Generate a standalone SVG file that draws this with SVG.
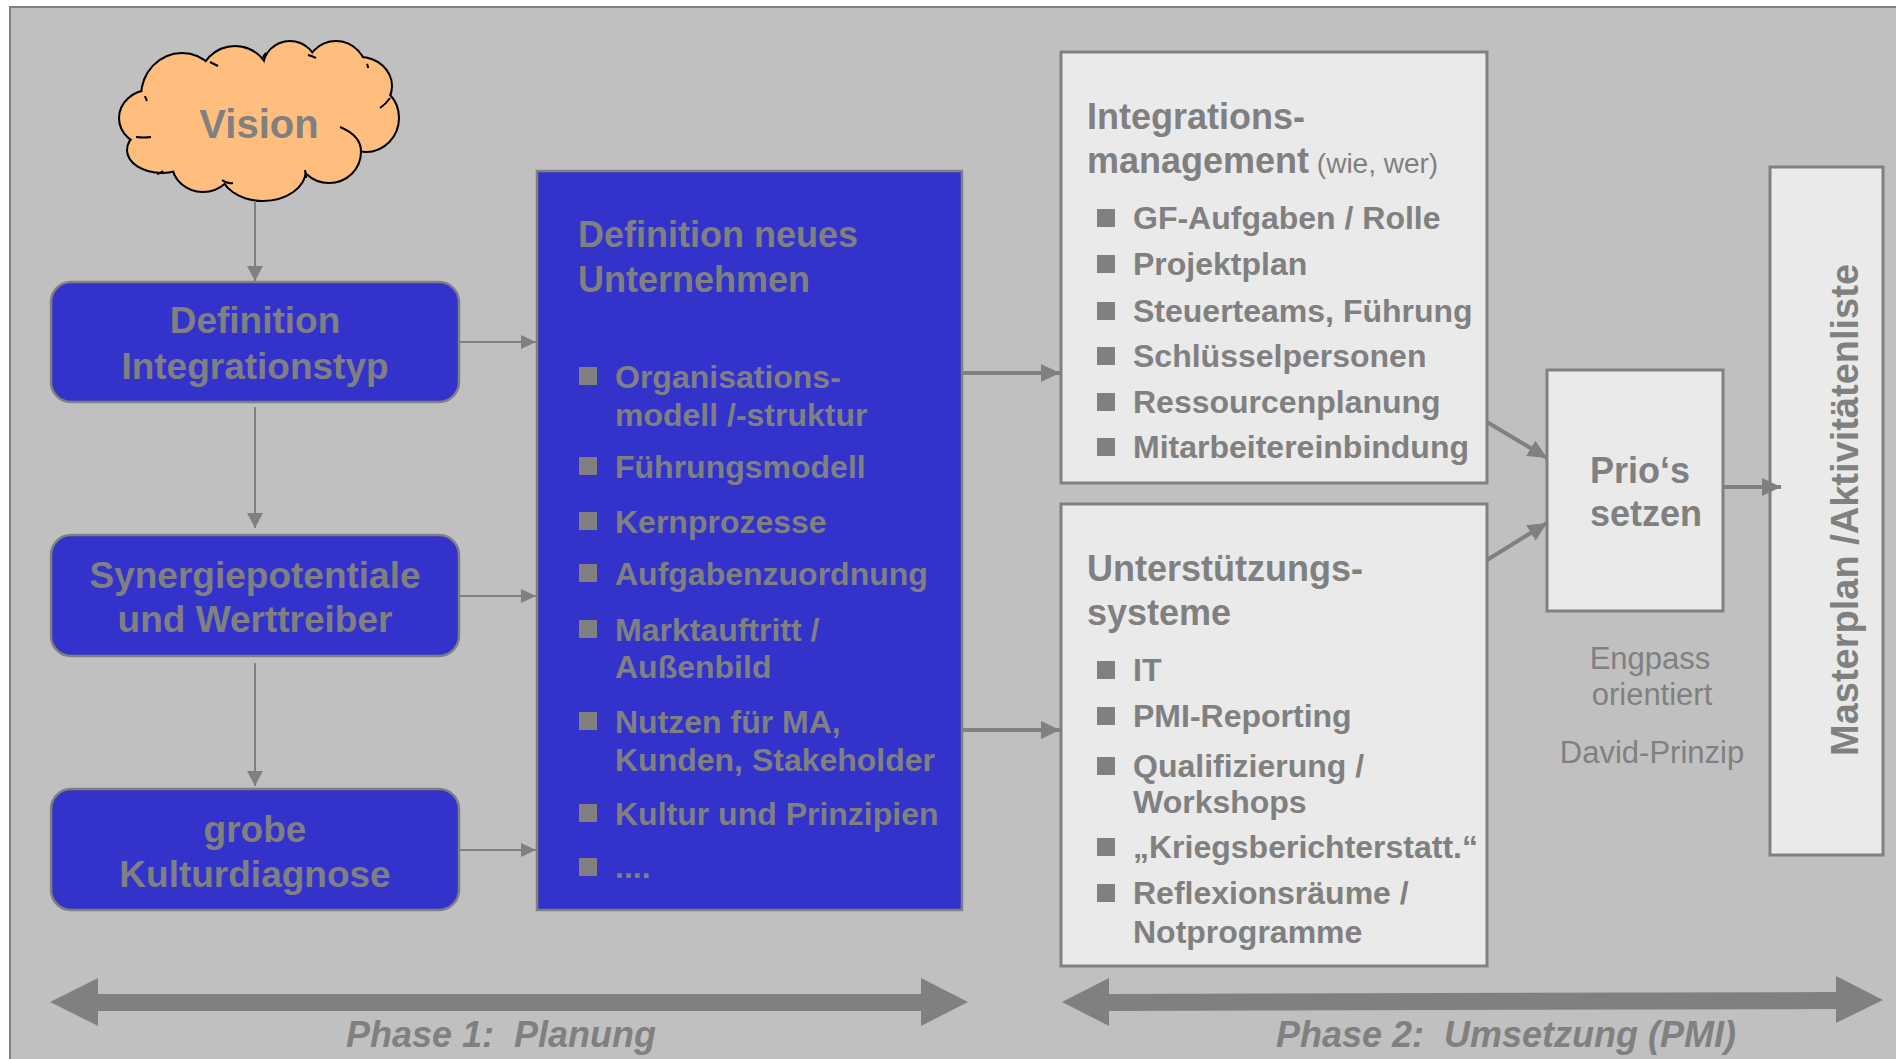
<svg xmlns="http://www.w3.org/2000/svg" width="1896" height="1059" viewBox="0 0 1896 1059">
  <style>
    text { font-family: "Liberation Sans", Arial, sans-serif; fill: #808080; }
    .b { font-weight: bold; }
    .t37 { font-size: 37px; font-weight: bold; text-anchor: middle; }
    .h36 { font-size: 36px; font-weight: bold; }
    .li { font-size: 32px; font-weight: bold; }
    .note { font-size: 31px; text-anchor: middle; }
    .phase { font-size: 36px; font-weight: bold; font-style: italic; text-anchor: middle; }
    .blue { fill: #3333CC; stroke: #808080; stroke-width: 2.5; }
    .light { fill: #EAEAEA; stroke: #808080; stroke-width: 3; }
    .sq { fill: #808080; }
    .thin { stroke: #808080; stroke-width: 2; fill: none; }
    .thick { stroke: #808080; stroke-width: 4; fill: none; }
  </style>
  <defs>
    <marker id="head" markerUnits="userSpaceOnUse" markerWidth="16" markerHeight="16" refX="15" refY="8" orient="auto">
      <path d="M0,0 L15,8 L0,16 z" fill="#808080"/>
    </marker>
    <marker id="headS" markerUnits="userSpaceOnUse" markerWidth="16" markerHeight="14" refX="15" refY="7" orient="auto">
      <path d="M0,0 L15,7 L0,14 z" fill="#808080"/>
    </marker>
    <marker id="headL" markerUnits="userSpaceOnUse" markerWidth="20" markerHeight="18" refX="19" refY="9" orient="auto">
      <path d="M0,0 L19,9 L0,18 z" fill="#808080"/>
    </marker>
  </defs>

  <!-- page and frame -->
  <rect x="0" y="0" width="1896" height="1059" fill="#FFFFFF"/>
  <rect x="10" y="7" width="1900" height="1070" fill="#C0C0C0" stroke="#808080" stroke-width="2"/>

  <!-- Vision cloud: outlined bumps, then filled bumps on top to keep only the outer edge -->
  <g id="vision">
    <g fill="#FFBE7D" stroke="#000000" stroke-width="4">
      <ellipse cx="150" cy="118" rx="30" ry="27"/>
      <ellipse cx="162" cy="150" rx="34" ry="22"/>
      <ellipse cx="203" cy="164" rx="30" ry="27"/>
      <ellipse cx="263" cy="170" rx="42" ry="30"/>
      <ellipse cx="329" cy="152" rx="31" ry="30"/>
      <ellipse cx="366" cy="118" rx="32" ry="33"/>
      <ellipse cx="360" cy="86" rx="31" ry="28"/>
      <ellipse cx="336" cy="73" rx="30" ry="31"/>
      <ellipse cx="290" cy="67" rx="26" ry="25"/>
      <ellipse cx="235" cy="82" rx="35" ry="35"/>
      <ellipse cx="182" cy="96" rx="40" ry="42"/>
    </g>
    <g fill="#FFBE7D">
      <ellipse cx="150" cy="118" rx="30" ry="27"/>
      <ellipse cx="162" cy="150" rx="34" ry="22"/>
      <ellipse cx="203" cy="164" rx="30" ry="27"/>
      <ellipse cx="263" cy="170" rx="42" ry="30"/>
      <ellipse cx="329" cy="152" rx="31" ry="30"/>
      <ellipse cx="366" cy="118" rx="32" ry="33"/>
      <ellipse cx="360" cy="86" rx="31" ry="28"/>
      <ellipse cx="336" cy="73" rx="30" ry="31"/>
      <ellipse cx="290" cy="67" rx="26" ry="25"/>
      <ellipse cx="235" cy="82" rx="35" ry="35"/>
      <ellipse cx="182" cy="96" rx="40" ry="42"/>
      <ellipse cx="262" cy="122" rx="105" ry="50"/>
    </g>
    <g fill="none" stroke="#000000" stroke-width="2">
      <path d="M340,127 Q362,136 361,153"/>
      <path d="M136,137 Q144,138 151,137"/>
      <path d="M145,96 Q146,99 147,101"/>
      <path d="M222,180 Q227,184 233,183"/>
      <path d="M305,170 Q306,174 306,178"/>
      <path d="M380,108 Q386,104 390,98"/>
      <path d="M308,55 Q312,56 316,58"/>
      <path d="M263,58 Q264,55 266,53"/>
      <path d="M210,62 Q214,64 218,66"/>
      <path d="M163,171 Q159,174 157,174"/>
      <path d="M367,64 Q368,66 368,68"/>
    </g>
    <text class="b" x="259" y="138" font-size="40" text-anchor="middle">Vision</text>
  </g>

  <!-- left column -->
  <g id="integrationstyp">
    <rect class="blue" x="51" y="282" width="408" height="120" rx="20"/>
    <text class="t37" x="255" y="333">Definition</text>
    <text class="t37" x="255" y="379">Integrationstyp</text>
  </g>
  <g id="synergie">
    <rect class="blue" x="51" y="535" width="408" height="121" rx="20"/>
    <text class="t37" x="255" y="588">Synergiepotentiale</text>
    <text class="t37" x="255" y="632">und Werttreiber</text>
  </g>
  <g id="kulturdiagnose">
    <rect class="blue" x="51" y="789" width="408" height="121" rx="20"/>
    <text class="t37" x="255" y="842">grobe</text>
    <text class="t37" x="255" y="887">Kulturdiagnose</text>
  </g>

  <!-- definition of the new company -->
  <g id="unternehmen">
    <rect class="blue" x="537" y="171" width="425" height="739"/>
    <text class="h36" x="578" y="247">Definition neues</text>
    <text class="h36" x="578" y="292">Unternehmen</text>
    <rect class="sq" x="579" y="367" width="18" height="18"/>
    <text class="li" x="615" y="388">Organisations-</text>
    <text class="li" x="615" y="426">modell /-struktur</text>
    <rect class="sq" x="579" y="457" width="18" height="18"/>
    <text class="li" x="615" y="478">Führungsmodell</text>
    <rect class="sq" x="579" y="512" width="18" height="18"/>
    <text class="li" x="615" y="533">Kernprozesse</text>
    <rect class="sq" x="579" y="564" width="18" height="18"/>
    <text class="li" x="615" y="585">Aufgabenzuordnung</text>
    <rect class="sq" x="579" y="620" width="18" height="18"/>
    <text class="li" x="615" y="641">Marktauftritt /</text>
    <text class="li" x="615" y="678">Außenbild</text>
    <rect class="sq" x="579" y="712" width="18" height="18"/>
    <text class="li" x="615" y="733">Nutzen für MA,</text>
    <text class="li" x="615" y="771">Kunden, Stakeholder</text>
    <rect class="sq" x="579" y="804" width="18" height="18"/>
    <text class="li" x="615" y="825">Kultur und Prinzipien</text>
    <rect class="sq" x="579" y="858" width="18" height="18"/>
    <text class="li" x="615" y="878">....</text>
  </g>

  <!-- integration management -->
  <g id="integrationsmanagement">
    <rect class="light" x="1061" y="52" width="426" height="431"/>
    <text class="h36" x="1087" y="129">Integrations-</text>
    <text x="1087" y="173"><tspan class="h36">management</tspan><tspan font-size="28"> (wie, wer)</tspan></text>
    <rect class="sq" x="1097" y="209" width="18" height="18"/>
    <text class="li" x="1133" y="229">GF-Aufgaben / Rolle</text>
    <rect class="sq" x="1097" y="255" width="18" height="18"/>
    <text class="li" x="1133" y="275">Projektplan</text>
    <rect class="sq" x="1097" y="302" width="18" height="18"/>
    <text class="li" x="1133" y="322">Steuerteams, Führung</text>
    <rect class="sq" x="1097" y="347" width="18" height="18"/>
    <text class="li" x="1133" y="367">Schlüsselpersonen</text>
    <rect class="sq" x="1097" y="393" width="18" height="18"/>
    <text class="li" x="1133" y="413">Ressourcenplanung</text>
    <rect class="sq" x="1097" y="438" width="18" height="18"/>
    <text class="li" x="1133" y="458">Mitarbeitereinbindung</text>
  </g>

  <!-- support systems -->
  <g id="unterstuetzungssysteme">
    <rect class="light" x="1061" y="504" width="426" height="462"/>
    <text class="h36" x="1087" y="581">Unterstützungs-</text>
    <text class="h36" x="1087" y="625">systeme</text>
    <rect class="sq" x="1097" y="661" width="18" height="18"/>
    <text class="li" x="1133" y="681">IT</text>
    <rect class="sq" x="1097" y="707" width="18" height="18"/>
    <text class="li" x="1133" y="727">PMI-Reporting</text>
    <rect class="sq" x="1097" y="757" width="18" height="18"/>
    <text class="li" x="1133" y="777">Qualifizierung /</text>
    <text class="li" x="1133" y="813">Workshops</text>
    <rect class="sq" x="1097" y="838" width="18" height="18"/>
    <text class="li" x="1133" y="858">„Kriegsberichterstatt.“</text>
    <rect class="sq" x="1097" y="884" width="18" height="18"/>
    <text class="li" x="1133" y="904">Reflexionsräume /</text>
    <text class="li" x="1133" y="943">Notprogramme</text>
  </g>

  <!-- priorities -->
  <g id="prios">
    <rect class="light" x="1547" y="370" width="176" height="241"/>
    <text class="h36" x="1590" y="483">Prio‘s</text>
    <text class="h36" x="1590" y="526">setzen</text>
  </g>
  <g id="prio-hinweise">
    <text class="note" x="1650" y="669">Engpass</text>
    <text class="note" x="1652" y="705">orientiert</text>
    <text class="note" x="1652" y="763">David-Prinzip</text>
  </g>

  <!-- master plan -->
  <g id="masterplan">
    <rect class="light" x="1770" y="167" width="113" height="688"/>
    <text class="b" font-size="38" text-anchor="middle" transform="translate(1858,510) rotate(-90)">Masterplan /Aktivitätenliste</text>
  </g>

  <!-- connectors -->
  <g id="connectors">
    <line class="thin" x1="255" y1="201" x2="255" y2="281" marker-end="url(#head)"/>
    <line class="thin" x1="255" y1="407" x2="255" y2="528" marker-end="url(#head)"/>
    <line class="thin" x1="255" y1="663" x2="255" y2="786" marker-end="url(#head)"/>
    <line class="thin" x1="459" y1="342" x2="536" y2="342" marker-end="url(#headS)"/>
    <line class="thin" x1="459" y1="596" x2="536" y2="596" marker-end="url(#headS)"/>
    <line class="thin" x1="459" y1="850" x2="536" y2="850" marker-end="url(#headS)"/>
    <line class="thick" x1="963" y1="373" x2="1060" y2="373" marker-end="url(#headL)"/>
    <line class="thick" x1="963" y1="730" x2="1060" y2="730" marker-end="url(#headL)"/>
    <line class="thick" x1="1487" y1="422" x2="1547" y2="458" marker-end="url(#headL)"/>
    <line class="thick" x1="1487" y1="560" x2="1547" y2="523" marker-end="url(#headL)"/>
    <line class="thick" x1="1724" y1="487" x2="1781" y2="487" stroke-width="5" marker-end="url(#headL)"/>
  </g>

  <!-- phase arrows -->
  <g id="phase1">
    <polygon fill="#808080" points="50,1002 98,978 98,994 921,994 921,978 968,1002 921,1026 921,1011 98,1011 98,1026"/>
    <text class="phase" x="501" y="1047" xml:space="preserve">Phase 1:  Planung</text>
  </g>
  <g id="phase2">
    <polygon fill="#808080" points="1062,1002 1109,978 1109,994 1836,992 1836,976 1883,1000 1836,1023 1836,1009 1109,1011 1109,1026"/>
    <text class="phase" x="1506" y="1047" xml:space="preserve">Phase 2:  Umsetzung (PMI)</text>
  </g>
</svg>
